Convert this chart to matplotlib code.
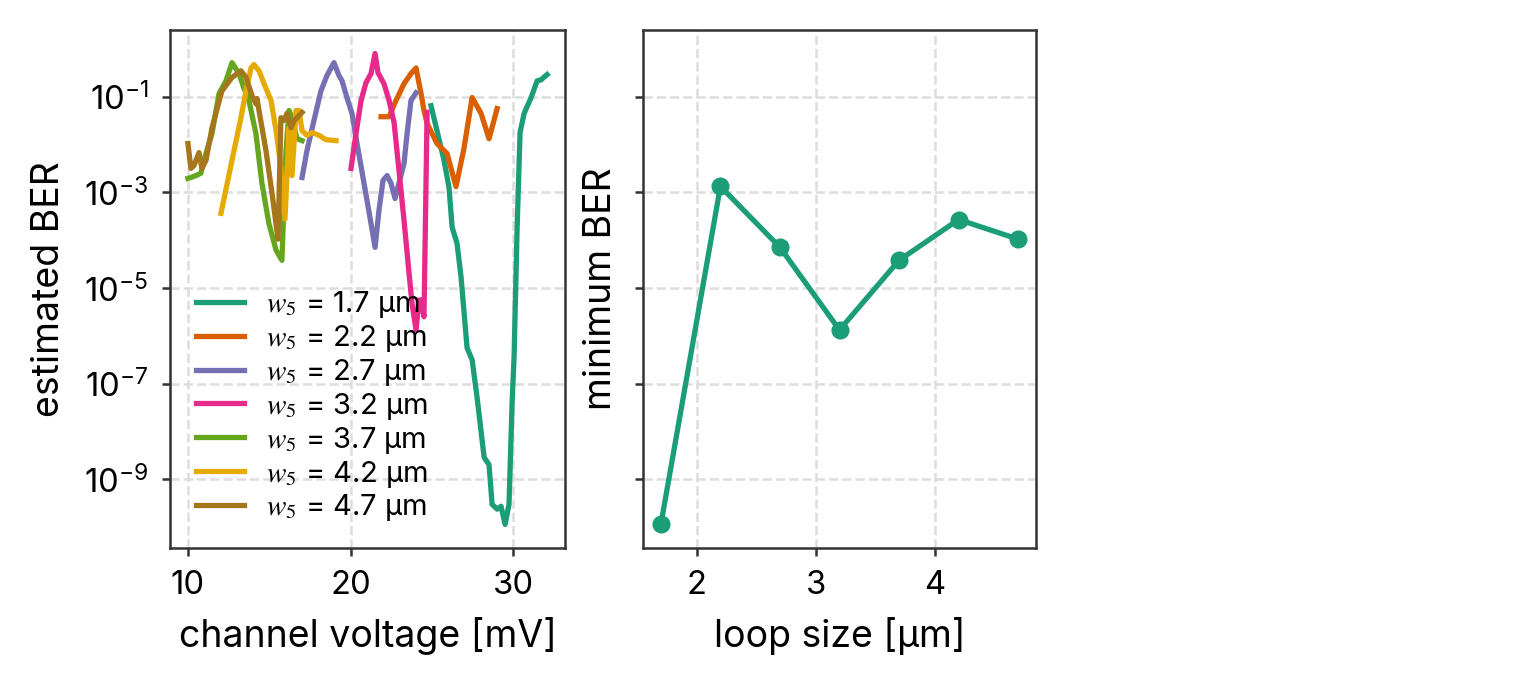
import numpy as np
import matplotlib
matplotlib.use("Agg")
import matplotlib.pyplot as plt

plt.rcParams['font.family'] = ['Inter', 'DejaVu Sans']
plt.rcParams['mathtext.fontset'] = 'stix'

# ---- data (BER given as log10 values) ----
loop_sizes = [1.7, 2.2, 2.7, 3.2, 3.7, 4.2, 4.7]
colors = ["#1b9e77", "#d95f02", "#7570b3", "#e7298a", "#66a61e", "#e6ab02", "#a6761d"]

v_17 = [24.95, 25.32, 25.75, 26.06, 26.25, 26.55, 26.80, 27.17, 27.48, 27.78, 28.22, 28.52, 28.71,
        29.02, 29.26, 29.51, 29.75, 29.94, 30.06, 30.25, 30.43, 30.68, 31.11, 31.48, 31.72, 32.09]
logber_17 = [-1.19, -1.71, -2.33, -2.90, -3.73, -4.06, -4.77, -6.25, -6.50, -7.27, -8.54, -8.69, -9.52,
             -9.62, -9.56, -9.94, -9.52, -7.40, -6.46, -3.73, -1.75, -1.35, -1.02, -0.67, -0.65, -0.54]

v_22 = [21.88, 22.37, 22.80, 23.29, 23.72, 24.03, 24.34, 24.52, 24.71, 25.32, 25.94, 26.49, 26.98,
        27.48, 28.03, 28.52, 29.02]
logber_22 = [-1.42, -1.42, -1.08, -0.73, -0.52, -0.40, -0.94, -1.29, -1.56, -1.98, -2.19, -2.88, -2.08,
             -1.02, -1.35, -1.88, -1.25]

v_27 = [17.02, 17.32, 17.75, 18.18, 18.55, 18.98, 19.29, 19.48, 19.78, 20.09, 20.40, 20.83, 21.26,
        21.51, 21.75, 22.00, 22.25, 22.49, 22.74, 22.98, 23.29, 23.48, 23.72, 24.03]
logber_27 = [-2.69, -2.13, -1.50, -0.88, -0.56, -0.29, -0.56, -0.67, -1.02, -1.35, -1.98, -2.81, -3.65,
             -4.15, -3.38, -2.75, -2.65, -2.81, -3.13, -2.81, -2.40, -1.77, -1.08, -0.92]

v_32 = [20.03, 20.34, 20.65, 20.95, 21.26, 21.51, 21.69, 22.06, 22.37, 22.68, 22.98, 23.29, 23.60,
        23.78, 24.03, 24.22, 24.34, 24.52, 24.71]
logber_32 = [-2.50, -1.77, -1.08, -0.71, -0.52, -0.10, -0.50, -0.73, -1.08, -1.54, -2.54, -3.58, -4.69,
             -5.31, -5.88, -5.25, -5.25, -5.60, -1.33]

v_37 = [10.00, 10.18, 10.49, 10.80, 10.98, 11.48, 11.91, 12.34, 12.71, 12.95, 13.14, 13.45, 13.75,
        14.18, 14.55, 14.98, 15.42, 15.78, 16.03, 16.22, 16.40, 16.71, 17.02]
logber_37 = [-2.71, -2.69, -2.65, -2.60, -2.33, -1.77, -0.94, -0.67, -0.29, -0.42, -0.52, -0.83, -1.08,
             -1.77, -2.81, -3.65, -4.21, -4.42, -2.13, -1.29, -1.44, -1.88, -1.92]

v_42 = [12.03, 12.71, 13.26, 13.57, 13.88, 14.06, 14.37, 14.68, 15.11, 15.42, 15.72, 15.97, 16.22,
        16.40, 16.65, 16.83, 17.02, 17.32, 17.63, 18.06, 18.49, 19.11]
logber_42 = [-3.44, -2.33, -1.44, -0.88, -0.40, -0.33, -0.46, -0.73, -1.08, -1.71, -2.48, -3.56, -1.65,
             -2.65, -1.29, -1.29, -1.71, -1.81, -1.75, -1.81, -1.90, -1.92]

v_47 = [10.00, 10.18, 10.37, 10.68, 10.86, 11.11, 11.48, 12.09, 12.71, 13.26, 13.57, 13.94, 14.18,
        14.25, 14.37, 14.80, 15.17, 15.54, 15.72, 15.91, 16.09, 16.34, 16.52, 16.71, 17.02]
logber_47 = [-1.98, -2.50, -2.44, -2.17, -2.50, -2.33, -1.65, -0.88, -0.60, -0.46, -0.60, -0.98, -1.15,
             -1.04, -1.29, -2.13, -3.02, -3.98, -1.44, -1.50, -1.35, -1.65, -1.50, -1.44, -1.33]

min_ber = [1.15e-10, 1.33e-3, 7.1e-5, 1.33e-6, 3.8e-5, 2.7e-4, 1.05e-4]

voltages = [v_17, v_22, v_27, v_32, v_37, v_42, v_47]
logbers = [logber_17, logber_22, logber_27, logber_32, logber_37, logber_42, logber_47]

# ---- figure ----
W, H = 1539, 688
fig = plt.figure(figsize=(W / 200, H / 200), dpi=200)
ax1 = fig.add_axes([170 / W, 1 - 548 / H, 395 / W, 518 / H])
ax2 = fig.add_axes([643 / W, 1 - 548 / H, 393 / W, 518 / H], sharey=ax1)

for w, c, v, lb in zip(loop_sizes, colors, voltages, logbers):
    ax1.plot(v, 10 ** np.array(lb), color=c, lw=1.9, label=f"$w_5$ = {w} μm")

ax2.plot(loop_sizes, min_ber, color=colors[0], lw=1.9, marker='o', ms=5.5)

ax1.set_yscale('log')
ax1.set_xticks([10, 20, 30])
ax2.set_xticks([2, 3, 4])
ax1.set_yticks([1e-1, 1e-3, 1e-5, 1e-7, 1e-9])
ax1.minorticks_off()
ax2.minorticks_off()
plt.setp(ax2.get_yticklabels(), visible=False)

for ax in (ax1, ax2):
    ax.grid(True, ls='--', color='#dddddd', lw=0.9)
    ax.set_axisbelow(True)
    for s in ax.spines.values():
        s.set_color('#333333')
        s.set_linewidth(0.9)
    ax.tick_params(length=2.8, width=0.9, color='#333333', labelsize=11.8, pad=5)

ax1.set_xlabel("channel voltage [mV]", fontsize=13.5, labelpad=6)
ax1.set_ylabel("estimated BER", fontsize=13.5, labelpad=6)
ax2.set_xlabel("loop size [μm]", fontsize=13.5, labelpad=6)
ax2.set_ylabel("minimum BER", fontsize=13.5, labelpad=6)

ax1.legend(loc='lower left', frameon=False, fontsize=10.5, handlelength=1.65, handletextpad=0.75,
           labelspacing=0.1, borderaxespad=0.3, bbox_to_anchor=(0.013, 0.008))

fig.savefig("out.png", dpi=200)
